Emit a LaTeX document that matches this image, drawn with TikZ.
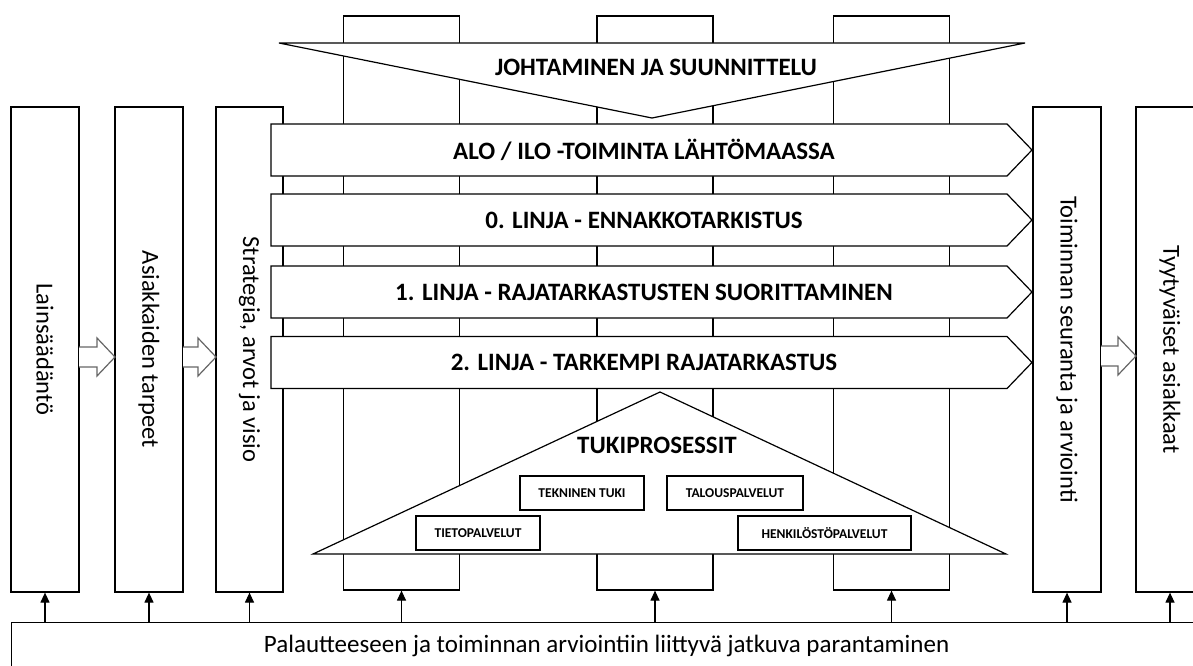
\documentclass[tikz,border=0pt]{standalone}
\usepackage{fontspec}
\setmainfont{Carlito}
\usetikzlibrary{arrows.meta}

\tikzset{
  outline/.style={draw, fill=white, line width=1.2pt},
  tallbox/.style={outline, minimum width=68pt, minimum height=485pt, inner sep=0pt},
  pillar/.style={outline, minimum width=116pt, minimum height=574pt, inner sep=0pt},
  band/.style={outline, line join=miter},
  bigtext/.style={font=\fontsize{25}{29}\selectfont\bfseries},
  sidetext/.style={rotate=-90, font=\fontsize{24.5}{28}\selectfont},
  servicebox/.style={outline, minimum height=34pt, inner sep=0pt, font=\fontsize{13.5}{16}\selectfont\bfseries},
  hollow/.style={draw=black!60, line width=1.2pt, fill=white},
  feedback/.style={-{Triangle[length=10pt,width=9pt]}, line width=1.2pt},
  pics/openarrow/.style={code={\draw[hollow] (0,-10) -- (#1-18,-10) -- (#1-18,-19) -- (#1,0) -- (#1-18,19) -- (#1-18,10) -- (0,10);}}
}

\begin{document}
\begin{tikzpicture}[x=1pt,y=-1pt]
  \useasboundingbox (0,0) rectangle (1193,666);
  \clip (0,0) rectangle (1193,666);
  \fill[white] (0,0) rectangle (1193,666);

  \foreach \x [count=\i] in {401.5,655,891.5}
    \node[pillar] (pillar\i) at (\x,303) {};

  \node[tallbox] (laki) at (45,349.5) {};
  \node[tallbox] (tarpeet) at (149,349.5) {};
  \node[tallbox, minimum width=67pt] (strategia) at (249.5,349.5) {};
  \node[tallbox] (seuranta) at (1067,349.5) {};
  \node[tallbox] (asiakkaat) at (1170,349.5) {};

  \node[sidetext] at (laki) {Lainsäädäntö};
  \node[sidetext] at (tarpeet) {Asiakkaiden tarpeet};
  \node[sidetext] at (strategia) {Strategia, arvot ja visio};
  \node[sidetext] at (seuranta) {Toiminnan seuranta ja arviointi};
  \node[sidetext] at (asiakkaat) {Tyytyväiset asiakkaat};

  \draw[band] (279,43) -- (1025,43) -- (652,118) -- cycle;
  \node[bigtext] (johto) at (656,67) {JOHTAMINEN JA SUUNNITTELU};

  \foreach \yy/\nm/\txt in {150/alo/{ALO / ILO -TOIMINTA LÄHTÖMAASSA},
                           220/linja0/{0. LINJA - ENNAKKOTARKISTUS},
                           292/linja1/{1. LINJA - RAJATARKASTUSTEN SUORITTAMINEN},
                           362.5/linja2/{2. LINJA - TARKEMPI RAJATARKASTUS}}{
    \draw[band] (271,\yy-26) -- (1007,\yy-26) -- (1032,\yy) -- (1007,\yy+26) -- (271,\yy+26) -- cycle;
    \node[bigtext] (\nm) at (644,\yy) {\txt};
  }

  \draw[band] (313,554) -- (660,392) -- (1006,554) -- cycle;
  \node[bigtext] (tuki) at (657,445) {TUKIPROSESSIT};
  \node[servicebox, minimum width=124pt] (tekninen) at (582,493) {TEKNINEN TUKI};
  \node[servicebox, minimum width=136pt] (talous) at (735,493) {TALOUSPALVELUT};
  \node[servicebox, minimum width=124pt] (tieto) at (478,533) {TIETOPALVELUT};
  \node[servicebox, minimum width=173pt] (henkilosto) at (824.5,533) {HENKILÖSTÖPALVELUT};

  \pic at (79,357) {openarrow=36};
  \pic at (183,357) {openarrow=33};
  \pic at (1101,356) {openarrow=35};

  \node[outline, anchor=north west, minimum width=1190pt, minimum height=46pt,
        font=\fontsize{25}{29}\selectfont] (parannus) at (11,622)
        {Palautteeseen ja toiminnan arviointiin liittyvä jatkuva parantaminen};

  \foreach \n in {laki,tarpeet,strategia,pillar1,pillar2,pillar3,seuranta,asiakkaat}
    \draw[feedback] (\n.south |- parannus.north) -- (\n.south);
\end{tikzpicture}
\end{document}
